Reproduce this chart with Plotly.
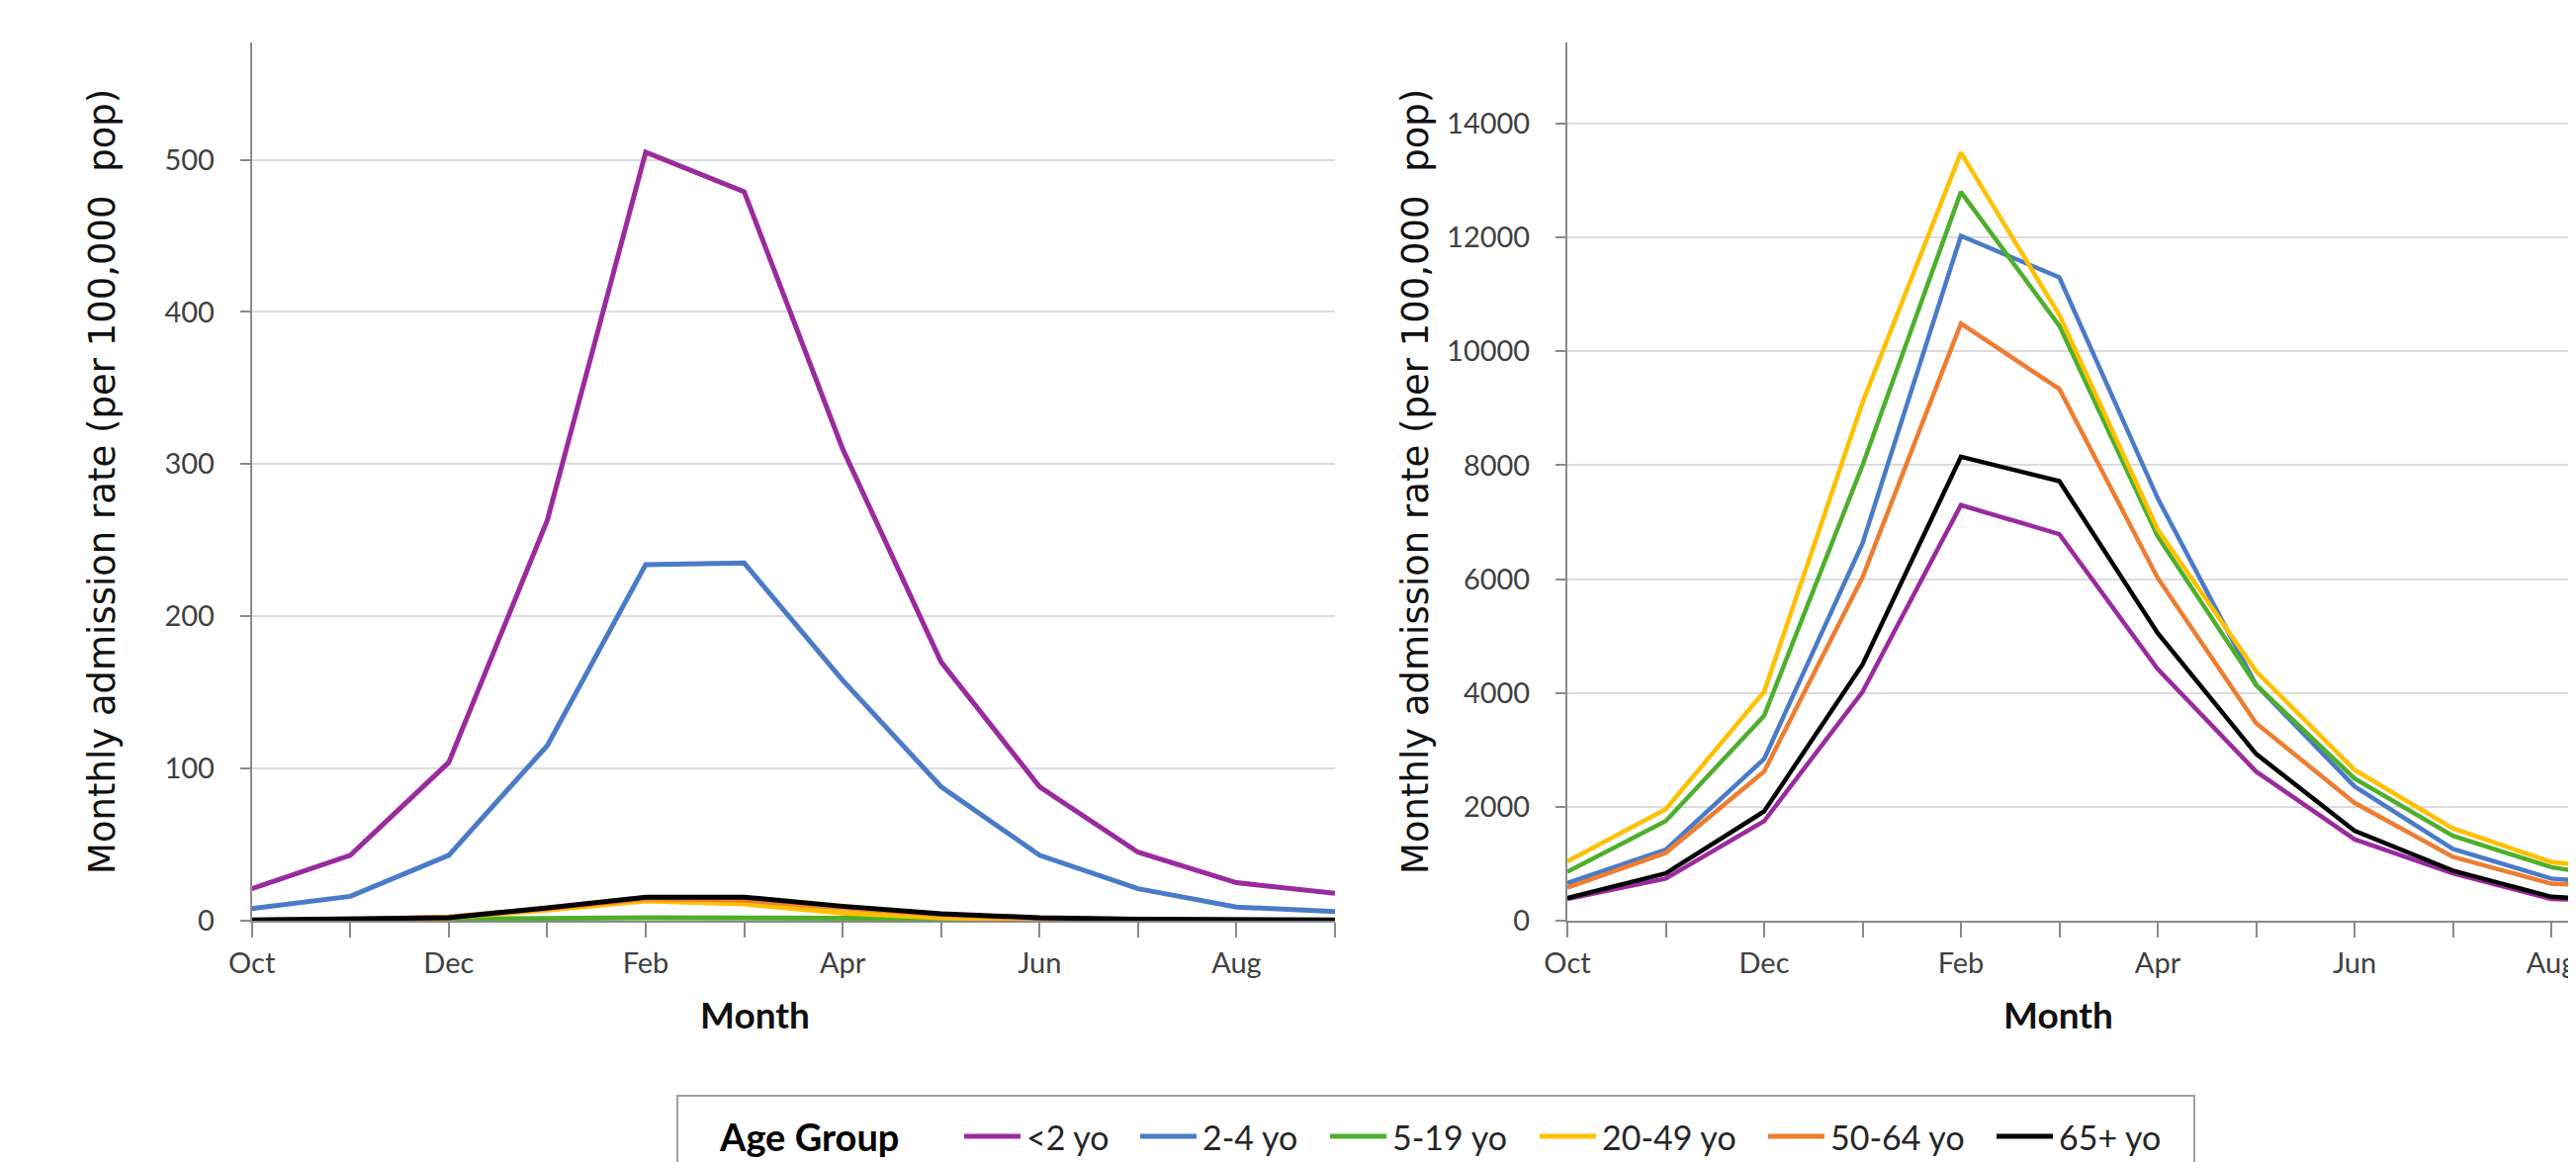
import plotly.graph_objects as go

# ---------------- data ----------------
months = ["Oct", "Nov", "Dec", "Jan", "Feb", "Mar", "Apr", "May", "Jun", "Jul", "Aug", "Sep"]
month_labels = ["Oct", "", "Dec", "", "Feb", "", "Apr", "", "Jun", "", "Aug", ""]

groups = ["<2 yo", "2-4 yo", "5-19 yo", "20-49 yo", "50-64 yo", "65+ yo"]
colors = ["#9B2A9E", "#4A7BC8", "#4DAF2C", "#FFC000", "#ED7D31", "#000000"]

# left panel (per 100,000 pop)
left_lt2 = [21, 43, 104, 263, 505, 479, 310, 170, 88, 45, 25, 18]
left_2_4 = [8, 16, 43, 115, 234, 235, 158, 88, 43, 21, 9, 6]
left_5_19 = [0.3, 0.5, 1, 1.5, 2, 2, 2, 1.5, 1, 0.5, 0.3, 0.3]
left_20_49 = [0.2, 0.5, 2, 7, 13, 11, 5, 2, 0.5, 0.3, 0.2, 0.2]
left_50_64 = [0.3, 0.8, 2.5, 8, 14.5, 13.5, 8.5, 4, 1.5, 0.7, 0.4, 0.3]
left_65 = [0.5, 1, 2, 8.5, 15.5, 15.5, 9.5, 4.5, 2, 1, 0.5, 0.5]

# right panel (per 100,000 pop)
right_lt2 = [380, 740, 1750, 4020, 7300, 6790, 4420, 2620, 1430, 830, 380, 330]
right_2_4 = [660, 1250, 2840, 6630, 12030, 11300, 7420, 4140, 2360, 1260, 740, 600]
right_5_19 = [860, 1750, 3600, 8000, 12800, 10450, 6750, 4140, 2500, 1490, 940, 680]
right_20_49 = [1040, 1960, 4020, 9100, 13490, 10640, 6870, 4380, 2650, 1620, 1030, 860]
right_50_64 = [580, 1190, 2620, 6030, 10490, 9340, 6020, 3470, 2070, 1120, 650, 570]
right_65 = [400, 830, 1920, 4500, 8150, 7720, 5050, 2930, 1580, 880, 420, 335]

left_series = [left_lt2, left_2_4, left_5_19, left_20_49, left_50_64, left_65]
right_series = [right_lt2, right_2_4, right_5_19, right_20_49, right_50_64, right_65]

left_yticks = [0, 100, 200, 300, 400, 500]
right_yticks = [0, 2000, 4000, 6000, 8000, 10000, 12000, 14000]

y_title = "Monthly admission rate (per 100,000  pop)"
legend_title = "Age Group"

# ---------------- figure ----------------
W, H = 2605, 1175
fig = go.Figure()

for name, col, ys in zip(groups, colors, left_series):
    fig.add_trace(go.Scatter(x=months, y=ys, name=name, mode="lines",
                             line=dict(color=col, width=5),
                             xaxis="x", yaxis="y", legendgroup=name, showlegend=False))
for name, col, ys in zip(groups, colors, right_series):
    fig.add_trace(go.Scatter(x=months, y=ys, name=name, mode="lines",
                             line=dict(color=col, width=4.5),
                             xaxis="x2", yaxis="y2", legendgroup=name,
                             showlegend=False))

top_px, bot_px = 35, 923
ydom = [1 - bot_px / H, 1 - top_px / H]

tickfont = dict(family="Lato", size=29, color="#404040")
axis_common = dict(showline=True, linecolor="#8a8a8a", linewidth=2,
                   ticks="outside", tickcolor="#8a8a8a", tickwidth=2,
                   automargin=False, tickfont=tickfont)

fig.update_layout(
    width=W, height=H,
    margin=dict(l=0, r=0, t=0, b=0),
    paper_bgcolor="white", plot_bgcolor="white",
    showlegend=False,
    xaxis=dict(domain=[246.7 / W, 1342 / W], type="category",
               categoryorder="array", categoryarray=months,
               range=[0, 11], tickmode="array", tickvals=months, ticktext=month_labels,
               ticklen=15, ticklabelstandoff=1, showgrid=False, anchor="y", **axis_common),
    yaxis=dict(domain=ydom, range=[0, 577], tickmode="array", tickvals=left_yticks,
               ticklen=10, ticklabelstandoff=20, showgrid=True, gridcolor="#dcdcdc",
               gridwidth=2, zeroline=False, anchor="x", **axis_common),
    xaxis2=dict(domain=[1577 / W, 1.0], type="category",
                categoryorder="array", categoryarray=months,
                range=[0, (W - 1577) / 99.5], tickmode="array", tickvals=months,
                ticktext=month_labels, ticklen=15, ticklabelstandoff=1,
                showgrid=False, anchor="y2", **axis_common),
    yaxis2=dict(domain=ydom, range=[0, 15425], tickmode="array", tickvals=right_yticks,
                tickformat="d",
                ticklen=10, ticklabelstandoff=20, showgrid=True, gridcolor="#dcdcdc",
                gridwidth=2, zeroline=False, anchor="x2", **axis_common),
)

# axis titles
for xc in (95, 1423):
    fig.add_annotation(xref="paper", yref="paper", showarrow=False,
                       x=xc / W, y=1 - 479 / H, xanchor="center", yanchor="middle",
                       text=y_title, textangle=-90,
                       font=dict(family="DejaVu Sans", size=37, color="#111111"))
for xc in (755, 2073):
    fig.add_annotation(xref="paper", yref="paper", showarrow=False,
                       x=xc / W, y=1 - 1017 / H, xanchor="center", yanchor="middle",
                       text="<b>Month</b>",
                       font=dict(family="Lato", size=37, color="#111111"))

# legend box (drawn in paper space)
fig.add_shape(type="rect", xref="paper", yref="paper",
              x0=677 / W, x1=2211 / W, y0=-0.1, y1=1 - 1100 / H,
              line=dict(color="#a0a0a0", width=2), fillcolor="white", layer="below")
leg_y = 1 - 1141 / H
fig.add_annotation(xref="paper", yref="paper", showarrow=False,
                   x=717 / W, y=leg_y, xanchor="left", yanchor="middle",
                   text="<b>" + legend_title + "</b>",
                   font=dict(family="Lato", size=38, color="#000000"))
line_starts = [967, 1145, 1337, 1549, 1780, 2011]
for name, col, x0 in zip(groups, colors, line_starts):
    fig.add_shape(type="line", xref="paper", yref="paper",
                  x0=x0 / W, x1=(x0 + 57) / W, y0=leg_y, y1=leg_y,
                  line=dict(color=col, width=5))
    fig.add_annotation(xref="paper", yref="paper", showarrow=False,
                       x=(x0 + 61) / W, y=leg_y, xanchor="left", yanchor="middle",
                       text=name,
                       font=dict(family="Lato", size=34, color="#262626"))

fig.write_html("out.html")
